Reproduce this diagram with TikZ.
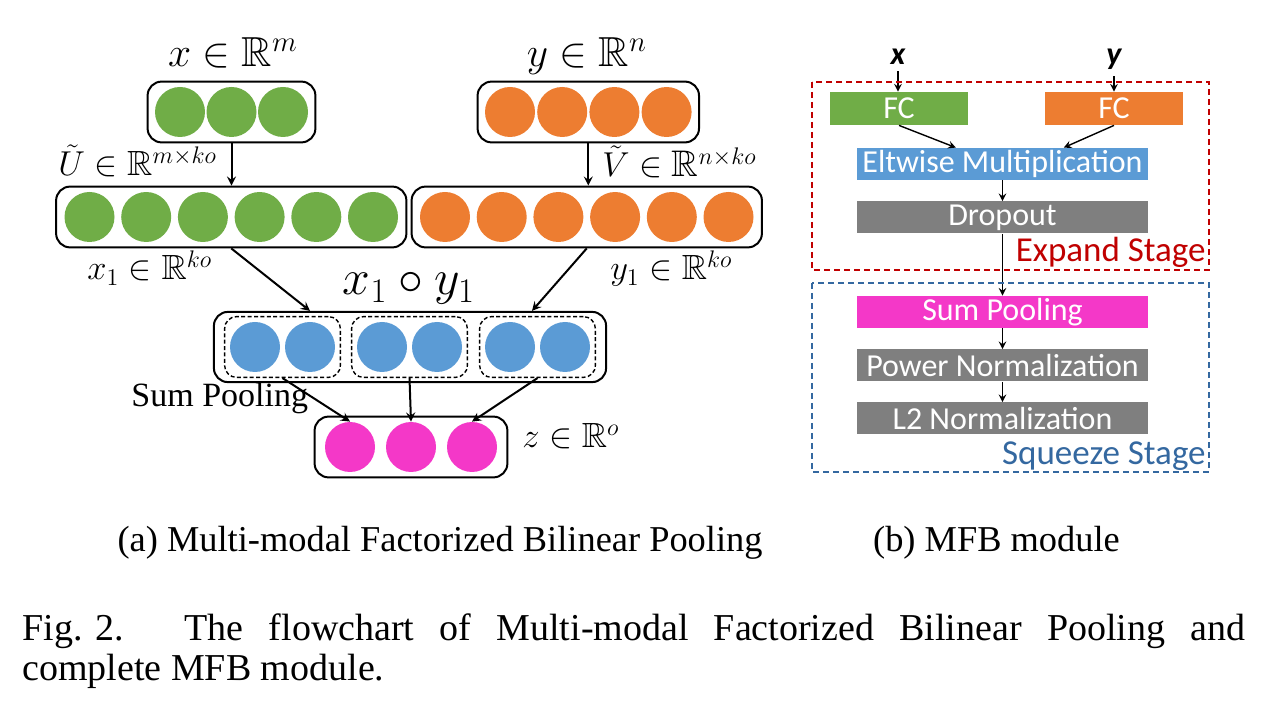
\documentclass[tikz,border=0pt]{standalone}
\usepackage{fontspec}
\usepackage{amssymb}
\setmainfont{Liberation Serif}
\newfontfamily\calibri{Carlito}
\usetikzlibrary{fit,calc}
\definecolor{cgreen}{RGB}{112,173,71}
\definecolor{corange}{RGB}{237,125,49}
\definecolor{cblue}{RGB}{91,155,213}
\definecolor{cpink}{RGB}{244,56,200}
\definecolor{cgray}{RGB}{127,127,127}
\definecolor{cred}{RGB}{192,0,0}
\definecolor{cstage}{RGB}{52,104,160}
\tikzset{
  dot/.style={circle,minimum size=25pt,inner sep=0pt,fill=#1},
  vec/.style={draw,line width=1pt,rounded corners=7pt,inner xsep=3.5pt,inner ysep=2.5pt},
  grp/.style={draw,line width=0.7pt,rounded corners=6pt,inner sep=2.5pt,dash pattern=on 2pt off 1.2pt},
  mlbl/.style={inner sep=0pt,font=\fontsize{17.5}{21}\selectfont},
  layer/.style={fill=#1,text=white,minimum width=145.5pt,minimum height=16pt,inner sep=0pt,font=\calibri\fontsize{16}{19}\selectfont},
  frame/.style={draw=#1,line width=1pt,dash pattern=on 3pt off 2pt},
}
\begin{document}
\begin{tikzpicture}[x=0.5pt,y=-0.5pt,>=stealth]
  \useasboundingbox (0,0) rectangle (1280,716);
  % (a) input and projected vectors
  \foreach \i in {1,2,3} \node[dot=cgreen] (x\i) at ({180+(\i-1)*51.5},112) {};
  \foreach \i in {1,...,4} \node[dot=corange] (y\i) at ({510+(\i-1)*52.2},112) {};
  \foreach \i in {1,...,6} \node[dot=cgreen] (u\i) at ({89.5+(\i-1)*56.7},217) {};
  \foreach \i in {1,...,6} \node[dot=corange] (v\i) at ({445+(\i-1)*56.7},217) {};
  \foreach \i/\cx in {1/255,2/310,3/382,4/437,5/510,6/565} \node[dot=cblue] (b\i) at (\cx,347) {};
  \foreach \i in {1,2,3} \node[dot=cpink] (z\i) at ({350+(\i-1)*61},447) {};
  \node[vec,fit=(x1)(x3)] (xbox) {};
  \node[vec,fit=(y1)(y4)] (ybox) {};
  \node[vec,inner xsep=4pt,fit=(u1)(u6)] (ubox) {};
  \node[vec,inner xsep=4pt,fit=(v1)(v6)] (vbox) {};
  \node[grp,fit=(b1)(b2)] (g1) {};
  \node[grp,fit=(b3)(b4)] (g2) {};
  \node[grp,fit=(b5)(b6)] (g3) {};
  \node[vec,inner xsep=5pt,inner ysep=2pt,fit=(g1)(g3)] (pbox) {};
  \node[vec,inner xsep=5pt,fit=(z1)(z3)] (zbox) {};
  % labels
  \node[mlbl,anchor=base,font=\fontsize{21}{25}\selectfont] (xlab) at (233,67) {$x\in\mathbb{R}^m$};
  \node[mlbl,anchor=base,font=\fontsize{21}{25}\selectfont] (ylab) at (587,67) {$y\in\mathbb{R}^n$};
  \node[mlbl,anchor=base west] (ulab) at (58,176) {$\tilde{U}\in\mathbb{R}^{m\times ko}$};
  \node[mlbl,anchor=base west,font=\fontsize{18.5}{22}\selectfont] (vlab) at (602,177) {$\tilde{V}\in\mathbb{R}^{n\times ko}$};
  \node[mlbl,anchor=base west] (x1lab) at (87,280) {$x_1\in\mathbb{R}^{ko}$};
  \node[mlbl,anchor=base west] (y1lab) at (610,280) {$y_1\in\mathbb{R}^{ko}$};
  \node[inner sep=0pt,anchor=base,font=\fontsize{23}{27}\selectfont] (plab) at (409,295) {$x_1\circ y_1$};
  \node[mlbl,anchor=base west] (zlab) at (522,448) {$z\in\mathbb{R}^o$};
  \node[inner sep=0pt,anchor=base west,font=\fontsize{17}{20}\selectfont] (slab) at (131,407) {Sum Pooling};
  % connectors
  \coordinate (uin) at (b2 |- pbox.north);
  \coordinate (vmid) at ($(b5)!0.4!(b6)$);
  \coordinate (vin) at (vmid |- pbox.north);
  \draw[line width=1pt,->] (xbox.south) -- (xbox.south |- ubox.north);
  \draw[line width=1pt,->] (ybox.south) -- (ybox.south |- vbox.north);
  \draw[line width=1pt,->] (ubox.south) -- (uin);
  \draw[line width=1pt,->] (vbox.south) -- (vin);
  \foreach \i in {1,2,3} \draw[line width=1pt,->] (g\i.south) -- (z\i.north);
  % (b) MFB module
  \node[anchor=base,inner sep=3pt,font=\calibri\bfseries\itshape\fontsize{16}{19}\selectfont] (xin) at (898,65) {x};
  \node[anchor=base,inner sep=3pt,font=\calibri\bfseries\itshape\fontsize{16}{19}\selectfont] (yin) at (1114,65) {y};
  \node[layer=cgreen,minimum width=69pt,minimum height=16.5pt] (fcx) at (899,108.5) {FC};
  \node[layer=corange,minimum width=69pt,minimum height=16.5pt] (fcy) at (1114,108.5) {FC};
  \node[layer=cblue] (elt) at (1002.5,164) {Eltwise Multiplication};
  \node[layer=cgray] (drop) at (1002.5,217.5) {Dropout};
  \node[layer=cpink] (sump) at (1002.5,312) {Sum Pooling};
  \node[layer=cgray] (pown) at (1002.5,365.5) {Power Normalization};
  \node[layer=cgray] (l2n) at (1002.5,418.5) {L2 Normalization};
  \coordinate (eltl) at ($(elt.north west)!0.34!(elt.north east)$);
  \coordinate (eltr) at ($(elt.north west)!0.71!(elt.north east)$);
  \draw[line width=0.7pt,->] (xin.south) -- (xin.south |- fcx.north);
  \draw[line width=0.7pt,->] (yin.south) -- (yin.south |- fcy.north);
  \draw[line width=0.7pt,->] (fcx.south) -- (eltl);
  \draw[line width=0.7pt,->] (fcy.south) -- (eltr);
  \draw[line width=0.7pt,->] (elt) -- (drop);
  \draw[line width=0.7pt,->] (drop) -- (sump);
  \draw[line width=0.7pt,->] (sump) -- (pown);
  \draw[line width=0.7pt,->] (pown) -- (l2n);
  \draw[frame=cred] (812,82) rectangle (1209,270);
  \draw[frame=cstage] (812,283) rectangle (1209,472);
  \node[anchor=base east,inner sep=0pt,text=cred,font=\calibri\fontsize{17.5}{21}\selectfont] (elab) at (1206,262) {Expand Stage};
  \node[anchor=base east,inner sep=0pt,text=cstage,font=\calibri\fontsize{17.5}{21}\selectfont] (qlab) at (1206,465) {Squeeze Stage};
  % captions
  \node[anchor=base,inner sep=0pt,font=\fontsize{18.2}{22}\selectfont] (capa) at (440,552) {(a) Multi-modal Factorized Bilinear Pooling};
  \node[anchor=base,inner sep=0pt,font=\fontsize{18.2}{22}\selectfont] (capb) at (996.5,552) {(b) MFB module};
  \node[anchor=base west,inner sep=0pt,font=\fontsize{19}{20}\selectfont] (fig1) at (22,640) {\makebox[611.5pt][s]{\mbox{Fig. 2.}\hspace{1.6em}The flowchart of Multi-modal Factorized Bilinear Pooling and}};
  \node[anchor=base west,inner sep=0pt,font=\fontsize{19}{20}\selectfont] (fig2) at (22,680) {complete MFB module.};
\end{tikzpicture}
\end{document}
